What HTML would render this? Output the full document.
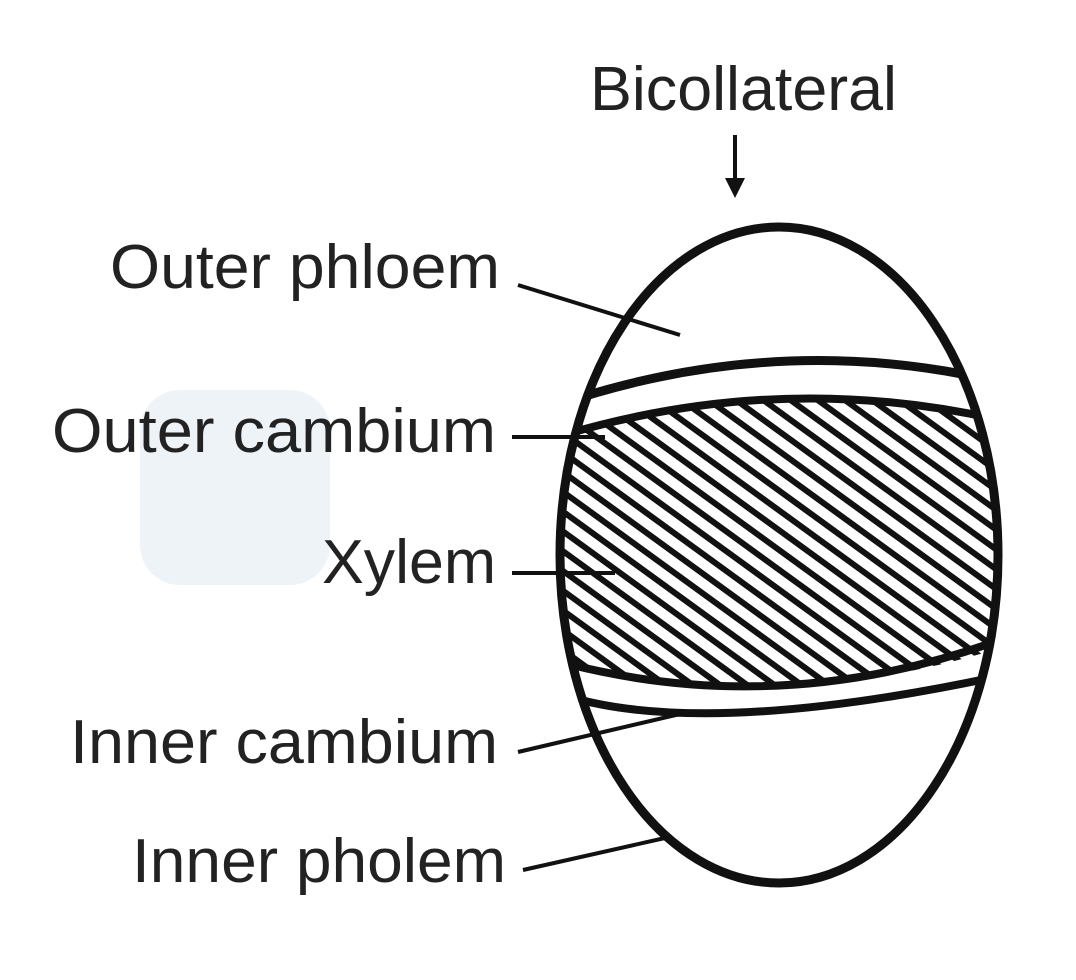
<!DOCTYPE html>
<html><head><style>
html,body{margin:0;padding:0;background:#fff;}
svg{display:block}
text{font-family:"Liberation Sans",sans-serif;fill:#222;}
</style></head><body>
<svg width="1076" height="980" viewBox="0 0 1076 980" xmlns="http://www.w3.org/2000/svg">
<defs>
<pattern id="h" patternUnits="userSpaceOnUse" width="16" height="16" patternTransform="rotate(36)">
<rect width="16" height="16" fill="#fff"/>
<rect x="0" y="0" width="16" height="6" fill="#111"/>
</pattern>
<clipPath id="egg"><ellipse cx="779" cy="555" rx="219" ry="328"/></clipPath>
</defs>
<rect x="140" y="390" width="190" height="195" rx="40" fill="#eef3f8"/>
<g clip-path="url(#egg)">
<path d="M540,440 Q780,370 1010,425 L1010,645 Q780,720 540,660 Z" fill="url(#h)"/>
<path d="M560,404 Q780,330 1000,382" fill="none" stroke="#111" stroke-width="9"/>
<path d="M560,436 Q780,370 1000,420" fill="none" stroke="#111" stroke-width="8"/>
<path d="M560,662 Q780,720 1000,640" fill="none" stroke="#111" stroke-width="8"/>
<path d="M560,694 Q700,740 1000,676" fill="none" stroke="#111" stroke-width="8"/>
</g>
<ellipse cx="779" cy="555" rx="219" ry="328" fill="none" stroke="#111" stroke-width="9"/>
<text x="590" y="110" font-size="62" textLength="307" lengthAdjust="spacingAndGlyphs">Bicollateral</text>
<line x1="735" y1="135" x2="735" y2="188" stroke="#111" stroke-width="4"/>
<path d="M725,178 L735,198 L745,178 Z" fill="#111"/>
<text x="110" y="288" font-size="62" textLength="390" lengthAdjust="spacingAndGlyphs">Outer phloem</text>
<text x="52" y="452" font-size="62" textLength="444" lengthAdjust="spacingAndGlyphs">Outer cambium</text>
<text x="322" y="583" font-size="62" textLength="174" lengthAdjust="spacingAndGlyphs">Xylem</text>
<text x="70" y="763" font-size="62" textLength="428" lengthAdjust="spacingAndGlyphs">Inner cambium</text>
<text x="132" y="882" font-size="62" textLength="374" lengthAdjust="spacingAndGlyphs">Inner pholem</text>
<g stroke="#111" stroke-width="4" fill="none">
<line x1="518" y1="285" x2="680" y2="335"/>
<line x1="512" y1="437" x2="605" y2="437"/>
<line x1="512" y1="573" x2="615" y2="573"/>
<line x1="518" y1="752" x2="680" y2="714"/>
<line x1="523" y1="870" x2="665" y2="838"/>
</g>
</svg>
</body></html>
